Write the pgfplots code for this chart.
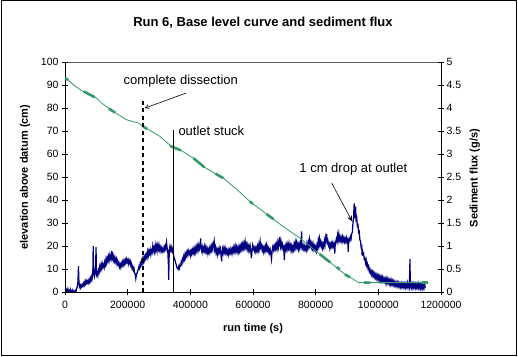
\documentclass[border=0pt]{standalone}
\usepackage{pgfplots}
\pgfplotsset{compat=1.18}
\usepackage{fontspec}
\setmainfont{Liberation Sans}
\usetikzlibrary{arrows.meta}
\definecolor{sgreen}{RGB}{51,153,102}
\definecolor{navyb}{RGB}{0,0,128}
\begin{document}
\begin{tikzpicture}[x=1pt,y=1pt]
\path (0,0) rectangle (518,356);
\draw[black, line width=1pt] (1,1) rectangle (516.5,355);
\node[font=\fontsize{13}{15}\selectfont\bfseries] at (263,333) {Run 6, Base level curve and sediment flux};
\draw[gray!70!black, line width=0.8pt] (65,294) -- (441,294);
\pgfplotsset{every axis/.append style={
  scale only axis, width=376pt, height=230.3pt, at={(65pt,63.7pt)}, anchor=south west,
  xmin=0, xmax=1200, tick align=center, major tick length=6pt,
  tick style={black, line width=0.6pt}, axis line style={black, line width=0.8pt},
  ticklabel style={font=\fontsize{10.5}{12}\selectfont},
  /pgf/number format/assume math mode=true,
}}
% right axis: sediment flux
\begin{axis}[
  ymin=0, ymax=5, axis x line=none, axis y line*=right,
  ytick={0,0.5,1,1.5,2,2.5,3,3.5,4,4.5,5},
  yticklabel style={/pgf/number format/fixed, xshift=-1pt},
]
\addplot[navyb, line width=1.25pt] coordinates {
(0,0.1)(1,0.02)(2,0.08)(3,0.0)(5,0.05)(7,0.01)(9,0.07)(11,0.0)(13,0.04)(15,0.01)(17,0.06)(19,0.0)(21,0.03)(23,0.0)(25,0.05)(27,0.01)(29,0.02)(31,0.0)(33,0.04)(35,0.02)(37,0.08)(39,0.12)(41,0.2)(42,0.35)(43,0.57)(44,0.3)(45,0.18)(46,0.12)(48,0.16)(50,0.1)(52,0.15)(54,0.12)(56,0.17)(58,0.14)(60,0.2)(62,0.16)(64,0.24)(66,0.19)(68,0.25)(70,0.2)(72,0.24)(74,0.2)(76,0.26)(78,0.22)(80,0.3)(82,0.25)(84,0.33)(86,0.28)(88,0.38)(89,0.5)(90,1.0)(91,0.6)(92,0.42)(94,0.34)(96,0.4)(98,0.6)(99,0.98)(100,0.55)(101,0.38)(103,0.42)(105,0.36)(107,0.48)(109,0.44)(111,0.56)(113,0.5)(115,0.6)(117,0.52)(119,0.62)(121,0.55)(123,0.6)(125,0.54)(127,0.66)(129,0.6)(131,0.72)(133,0.64)(135,0.74)(137,0.68)(139,0.78)(141,0.7)(143,0.8)(145,0.72)(147,0.76)(149,0.9)(150,0.74)(152,0.8)(154,0.7)(156,0.78)(158,0.68)(160,0.74)(162,0.66)(164,0.72)(166,0.62)(168,0.68)(170,0.6)(172,0.64)(174,0.55)(176,0.6)(178,0.54)(180,0.63)(182,0.58)(184,0.66)(186,0.6)(188,0.68)(190,0.62)(192,0.7)(194,0.64)(196,0.72)(198,0.66)(200,0.7)(202,0.62)(204,0.7)(206,0.64)(208,0.68)(210,0.58)(212,0.62)(214,0.52)(216,0.56)(218,0.48)(220,0.52)(222,0.42)(224,0.4)(226,0.3)(228,0.38)(230,0.42)(232,0.46)(234,0.5)(236,0.56)(238,0.52)(240,0.62)(242,0.58)(244,0.68)(246,0.62)(248,0.72)(250,0.66)(252,0.76)(254,0.7)(256,0.8)(258,0.74)(260,0.82)(262,0.76)(264,0.88)(266,0.8)(268,0.9)(270,0.84)(272,0.92)(274,0.82)(276,0.9)(278,0.86)(280,1.0)(282,0.9)(284,0.96)(286,0.88)(288,1.02)(290,0.92)(292,1.0)(294,0.9)(296,1.02)(298,0.94)(300,1.03)(302,0.92)(304,0.98)(306,0.9)(308,0.96)(310,0.88)(312,0.94)(314,0.9)(316,0.98)(318,0.92)(320,1.0)(322,0.94)(324,1.08)(326,0.96)(328,0.9)(330,0.6)(331,0.27)(332,0.7)(333,0.92)(335,1.0)(337,0.92)(339,0.98)(341,0.9)(343,0.94)(345,0.84)(347,0.8)(349,0.72)(351,0.7)(353,0.64)(355,0.6)(357,0.54)(359,0.52)(361,0.5)(363,0.56)(365,0.52)(367,0.6)(369,0.58)(371,0.66)(373,0.62)(375,0.72)(377,0.68)(379,0.78)(381,0.72)(383,0.82)(385,0.76)(387,0.86)(389,0.8)(391,0.88)(393,0.82)(395,0.9)(397,0.84)(399,0.88)(401,0.8)(403,0.9)(405,0.84)(407,0.92)(409,0.86)(411,0.94)(413,0.86)(415,0.96)(417,0.88)(419,0.98)(421,0.9)(423,1.0)(425,0.92)(427,1.02)(429,0.94)(431,1.0)(433,1.17)(434,0.96)(436,0.9)(438,0.98)(440,0.88)(442,0.96)(444,0.9)(446,1.0)(448,0.9)(450,0.98)(452,0.88)(454,0.94)(456,0.84)(458,0.92)(460,0.86)(462,0.96)(464,0.9)(466,1.0)(468,0.92)(470,1.02)(472,0.94)(474,1.05)(476,1.12)(478,0.92)(480,0.98)(482,0.86)(484,0.92)(486,0.82)(488,0.92)(490,0.86)(492,0.96)(494,0.88)(496,0.94)(498,0.8)(500,0.67)(501,0.85)(503,0.94)(505,0.86)(507,0.96)(509,0.88)(511,0.96)(513,0.86)(515,0.92)(517,0.84)(519,0.9)(521,0.82)(523,0.92)(525,0.86)(527,0.94)(529,0.86)(531,0.92)(533,0.84)(535,0.94)(537,0.88)(539,0.98)(541,0.9)(543,1.0)(545,0.9)(547,0.98)(549,0.88)(551,0.96)(553,0.88)(555,0.98)(557,0.9)(559,1.0)(561,0.92)(563,1.02)(565,0.94)(567,1.04)(569,0.96)(571,1.06)(573,0.98)(575,1.1)(577,0.98)(579,1.04)(581,0.94)(583,1.02)(585,0.92)(587,1.0)(589,0.92)(591,1.0)(593,0.88)(595,0.74)(597,0.92)(599,1.02)(601,0.94)(603,0.98)(605,0.9)(607,0.96)(609,0.88)(611,0.96)(613,0.9)(615,1.0)(617,0.92)(619,1.04)(621,0.96)(623,1.1)(625,0.98)(627,1.02)(629,0.92)(631,0.98)(633,0.88)(635,0.96)(637,0.9)(639,1.0)(641,0.92)(643,1.02)(645,0.92)(647,0.98)(649,0.88)(651,0.94)(653,0.86)(655,0.92)(657,0.82)(659,0.72)(661,0.9)(663,0.98)(665,0.92)(667,1.0)(669,0.94)(671,1.02)(673,0.94)(675,1.04)(677,0.96)(679,1.08)(681,0.98)(683,1.1)(685,1.0)(686,1.2)(688,1.0)(690,1.08)(692,0.98)(694,1.04)(696,0.94)(698,0.98)(700,0.7)(701,0.9)(703,1.0)(705,0.92)(707,1.02)(709,0.94)(711,1.04)(713,0.96)(715,1.06)(717,0.96)(719,1.02)(721,0.92)(723,1.0)(725,0.9)(727,0.98)(729,0.92)(731,1.04)(733,0.96)(735,1.08)(737,0.98)(739,1.08)(741,0.98)(743,1.04)(745,0.94)(747,1.04)(749,0.96)(751,1.06)(753,1.0)(755,1.32)(756,1.04)(758,0.96)(760,1.02)(762,0.94)(764,1.0)(766,0.92)(768,0.98)(770,0.92)(772,1.04)(774,0.96)(776,1.08)(778,1.0)(780,1.14)(782,1.02)(784,1.08)(786,0.98)(788,1.06)(790,0.96)(792,1.04)(794,0.94)(796,1.0)(798,0.92)(800,0.98)(802,0.9)(804,1.02)(806,0.96)(808,1.12)(810,1.02)(812,1.16)(814,1.04)(816,1.1)(818,1.0)(820,1.06)(822,0.96)(824,1.04)(826,0.98)(828,1.12)(830,1.04)(832,1.18)(834,1.08)(835,1.26)(837,1.08)(839,1.12)(841,1.02)(843,1.06)(845,0.96)(847,1.04)(849,0.98)(851,1.06)(853,1.0)(855,1.08)(857,1.0)(859,1.04)(861,0.84)(862,1.0)(864,1.1)(866,1.16)(868,1.1)(870,1.24)(872,1.14)(874,1.26)(876,1.14)(878,1.2)(880,1.12)(882,1.18)(884,1.1)(886,1.2)(888,1.12)(890,1.18)(892,1.1)(894,1.16)(896,1.1)(898,1.18)(900,1.1)(902,1.14)(904,0.88)(905,1.1)(907,1.16)(909,1.12)(911,1.2)(913,1.16)(915,1.28)(917,1.3)(919,1.5)(921,1.6)(922,1.8)(923,1.93)(924,1.78)(925,1.88)(926,1.7)(928,1.76)(929,1.58)(931,1.62)(933,1.44)(935,1.46)(937,1.3)(939,1.32)(941,1.14)(943,1.12)(945,0.98)(947,1.0)(948,0.8)(949,0.94)(951,0.82)(953,0.84)(955,0.72)(957,0.74)(959,0.64)(961,0.7)(963,0.58)(965,0.62)(967,0.52)(969,0.56)(971,0.46)(973,0.5)(975,0.42)(977,0.46)(979,0.38)(981,0.44)(983,0.36)(985,0.42)(987,0.34)(989,0.4)(991,0.32)(993,0.38)(995,0.3)(997,0.36)(999,0.28)(1001,0.35)(1003,0.27)(1005,0.34)(1007,0.26)(1009,0.33)(1011,0.25)(1013,0.32)(1015,0.24)(1017,0.3)(1019,0.24)(1021,0.3)(1023,0.22)(1025,0.29)(1027,0.2)(1029,0.28)(1031,0.21)(1033,0.27)(1035,0.19)(1037,0.26)(1039,0.18)(1041,0.26)(1043,0.18)(1045,0.24)(1047,0.16)(1049,0.23)(1051,0.16)(1053,0.22)(1055,0.15)(1057,0.21)(1059,0.14)(1061,0.2)(1063,0.13)(1065,0.2)(1067,0.13)(1069,0.19)(1071,0.12)(1073,0.19)(1075,0.12)(1077,0.18)(1079,0.11)(1081,0.18)(1083,0.12)(1085,0.19)(1087,0.11)(1089,0.18)(1091,0.12)(1093,0.2)(1095,0.11)(1097,0.18)(1099,0.12)(1101,0.72)(1102,0.13)(1104,0.19)(1106,0.11)(1108,0.18)(1110,0.1)(1112,0.18)(1114,0.11)(1116,0.17)(1118,0.1)(1120,0.18)(1122,0.11)(1124,0.17)(1126,0.1)(1128,0.18)(1130,0.1)(1132,0.16)(1134,0.09)(1136,0.17)(1138,0.1)(1140,0.16)(1142,0.08)(1144,0.15)(1146,0.09)(1148,0.16)(1150,0.1)
};
\end{axis}
% left axis: elevation
\begin{axis}[
  ymin=0, ymax=100, axis x line*=bottom, axis y line*=left,
  ytick={0,10,...,100},
  xtick={0,200,400,600,800,1000,1200},
  xticklabels={0,200000,400000,600000,800000,1000000,1200000},
  xticklabel style={yshift=-2pt},
]
\addplot[sgreen, line width=0.8pt] coordinates {
(0,93)(10,92.3)(26.6,90.1)(50,87.8)(69.1,86.5)(101,84.3)(117,82.2)(154,78.5)(196.8,74.9)(234,73.5)(250,72)(303,67.7)(345.7,62.6)(367,61.9)(409.5,58.3)(441.4,54.6)(494.7,50.3)(505,49.6)(550,44.5)(590,39.4)(654,32.9)(696.7,28.5)(750,23.5)(803,17.7)(856,11.9)(893.6,7.8)(915,6.1)(936,4.3)(1000,4.2)(1160,4.2)
};
% thicker runs of the base level record
\addplot[sgreen, line width=2.6pt] coordinates {(0,93)(10,92.3)};
\addplot[sgreen, line width=2.6pt] coordinates {(60,87.2)(95,84.7)};
\addplot[sgreen, line width=2.6pt] coordinates {(140,79.8)(160,78)};
\addplot[sgreen, line width=2.6pt] coordinates {(250,72)(262,70.9)};
\addplot[sgreen, line width=2.6pt] coordinates {(335,63.6)(370,61.6)};
\addplot[sgreen, line width=2.6pt] coordinates {(410,58.2)(445,54.3)};
\addplot[sgreen, line width=2.6pt] coordinates {(480,51.5)(505,49.6)};
\addplot[sgreen, line width=2.6pt] coordinates {(590,39.4)(600,38.4)};
\addplot[sgreen, line width=2.6pt] coordinates {(643,34)(665,31.8)};
\addplot[sgreen, line width=2.6pt] coordinates {(813,16.6)(846,13)};
\addplot[sgreen, line width=2.6pt] coordinates {(867,10.9)(877,10)};
\addplot[sgreen, line width=2.6pt] coordinates {(893.6,7.8)(909,6.5)};
\addplot[sgreen, line width=2.6pt] coordinates {(955,4.25)(975,4.2)};
\addplot[sgreen, line width=2.6pt] coordinates {(1140,4.2)(1160,4.2)};
\draw[black, line width=2pt, dash pattern=on 4pt off 3.5pt] (axis cs:249.9,0) -- (axis cs:249.9,82.9);
\draw[black, line width=0.8pt] (axis cs:345.7,0) -- (axis cs:345.7,70.6);
\node[font=\fontsize{13}{15}\selectfont] at (axis cs:369.6,91.9) {complete dissection};
\draw[black, line width=0.6pt, -{To[length=4pt,width=5pt]}] (axis cs:386.2,86.5) -- (axis cs:255.3,80.0);
\node[font=\fontsize{13}{15}\selectfont, anchor=west, inner sep=0pt] at (axis cs:361.6,70.1) {outlet stuck};
\node[font=\fontsize{13}{15}\selectfont] at (axis cs:920.1,53.6) {1 cm drop at outlet};
\draw[black, line width=0.6pt, -{Stealth[length=6pt,width=5pt]}] (axis cs:851.2,47.4) -- (axis cs:917,30.7);
\end{axis}
\node[font=\fontsize{11}{13}\selectfont\bfseries] at (253,27) {run time (s)};
\node[font=\fontsize{11}{13}\selectfont\bfseries, rotate=90] at (25,179) {elevation above datum (cm)};
\node[font=\fontsize{11}{13}\selectfont\bfseries, rotate=90] at (474.7,178) {Sediment flux (g/s)};
\end{tikzpicture}
\end{document}
